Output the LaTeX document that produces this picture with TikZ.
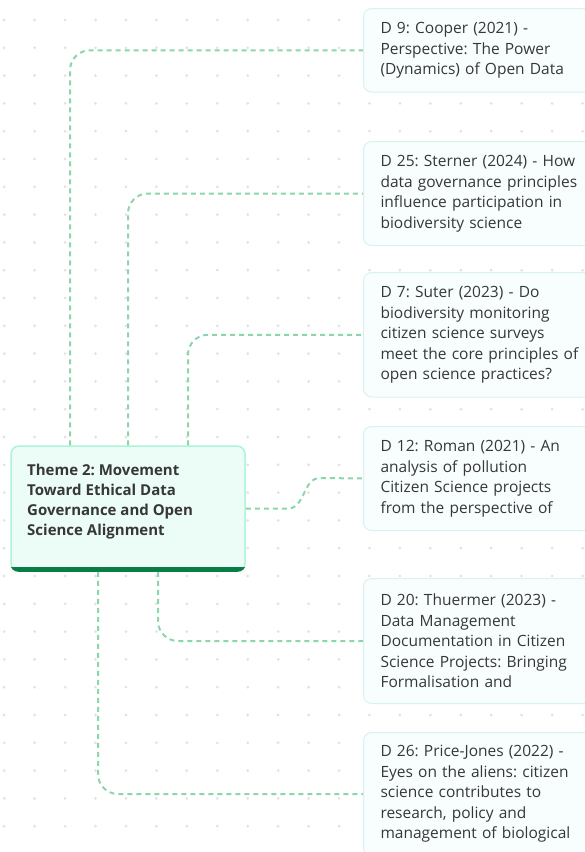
\documentclass[tikz,border=0pt]{standalone}
\usepackage{fontspec}
\setmainfont{Open Sans}
\frenchspacing
\definecolor{linkgreen}{RGB}{140,214,172}
\definecolor{dotgray}{RGB}{226,226,226}
\definecolor{rootfill}{RGB}{235,253,246}
\definecolor{rootborder}{RGB}{174,244,216}
\definecolor{rootbar}{RGB}{10,125,70}
\definecolor{childfill}{RGB}{248,253,253}
\definecolor{childborder}{RGB}{216,242,242}
\definecolor{txt}{RGB}{55,55,55}
\begin{document}
\begin{tikzpicture}[x=1pt,y=-1pt,
  link/.style={draw=linkgreen, line width=2pt, dash pattern=on 5pt off 4pt, rounded corners=20pt},
  childbox/.style={draw=childborder, fill=childfill, line width=1pt, rounded corners=8pt,
    anchor=north west, inner xsep=17pt, inner ysep=0pt, text width=230pt, align=left,
    font=\fontsize{15.5}{20.5}\selectfont, text=txt},
  rootbox/.style={draw=rootborder, fill=rootfill, line width=1.5pt, rounded corners=8pt,
    minimum width=234pt, minimum height=125pt, inner sep=0pt},
  roottext/.style={anchor=west, inner sep=0pt, align=left, text=txt,
    font=\fontsize{15}{20}\selectfont\bfseries}
]
\useasboundingbox (0,0) rectangle (585,852);
\clip (0,0) rectangle (585,852);
\fill[white] (0,0) rectangle (585,852);
\foreach \i in {0,...,19}
  \foreach \j in {0,...,30}
    \fill[dotgray] ({4.2+\i*30.44},{20+\j*27.8}) circle (1.5pt);

% root
\node[rootbox] (root) at (128,508.5) {};
\begin{scope}
  \clip[rounded corners=8pt] (root.north west) rectangle (root.south east);
  \fill[rootbar] ([yshift=4.5pt]root.south west) rectangle (root.south east);
\end{scope}
\node[roottext] (roottxt) at (27,501.5) {Theme 2: Movement\\Toward Ethical Data\\Governance and Open\\Science Alignment};

% children
\node[childbox, minimum height=83.5pt] (d9) at (363,8) {D 9: Cooper (2021) -\\Perspective: The Power\\(Dynamics) of Open Data};
\node[childbox, minimum height=104pt] (d25) at (363,141) {D 25: Sterner (2024) - How\\data governance principles\\influence participation in\\biodiversity science};
\node[childbox, minimum height=124.5pt] (d7) at (363,272) {D 7: Suter (2023) - Do\\biodiversity monitoring\\citizen science surveys\\meet the core principles of\\open science practices?};
\node[childbox, minimum height=104pt] (d12) at (363,426) {D 12: Roman (2021) - An\\analysis of pollution\\Citizen Science projects\\from the perspective of};
\node[childbox, minimum height=125pt] (d20) at (363,578) {D 20: Thuermer (2023) -\\Data Management\\Documentation in Citizen\\Science Projects: Bringing\\Formalisation and};
\node[childbox, minimum height=123pt] (d26) at (363,732) {D 26: Price-Jones (2022) -\\Eyes on the aliens: citizen\\science contributes to\\research, policy and\\management of biological};

% connector columns
\coordinate (c1) at (70,0);
\coordinate (c2) at (128,0);
\coordinate (c3) at (188,0);
\coordinate (c5) at (158,0);
\coordinate (c6) at (98,0);

\draw[link] (root.north -| c1) |- (d9.west);
\draw[link] (root.north -| c2) |- (d25.west);
\draw[link] (root.north -| c3) |- (d7.west);
\draw[link, rounded corners=0pt] (root.east) -- (288,508.5) .. controls (305,508.5) and (303,478) .. (320,478) -- (d12.west);
\draw[link] (root.south -| c5) |- (d20.west);
\draw[link] (root.south -| c6) |- (d26.west);
\end{tikzpicture}
\end{document}
